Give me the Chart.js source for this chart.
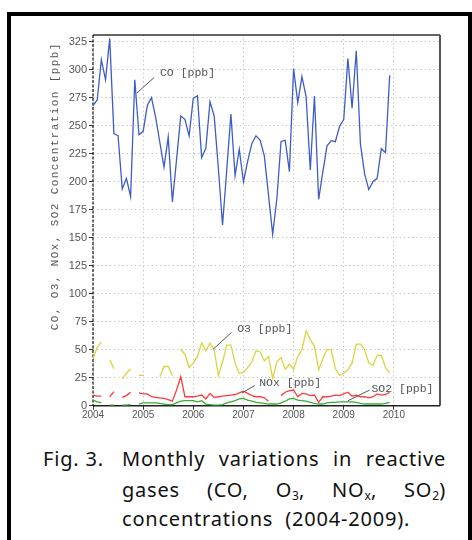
<!DOCTYPE html>
<html><head><meta charset="utf-8">
<script src="https://cdn.jsdelivr.net/npm/chart.js@4"></script>
<style>
html,body{margin:0;padding:0;background:#fff;}
body{width:472px;height:540px;position:relative;overflow:hidden;}
#frame{position:absolute;left:7px;top:12px;width:465px;height:560px;border:4px solid #000;box-sizing:border-box;}
#wrap{position:absolute;left:0;top:0;width:472px;height:440px;}
.cap{position:absolute;font-family:"Noto Sans";font-size:20px;letter-spacing:0.8px;line-height:30px;color:#111;white-space:nowrap;}
.j{text-align:justify;text-align-last:justify;white-space:normal;}
.lab{display:inline-block;width:79px;text-align:left;text-align-last:left;white-space:nowrap;}
sub{font-size:12px;vertical-align:-3px;line-height:0;letter-spacing:0;}
</style></head>
<body>
<div id="frame"></div>
<div id="wrap"><canvas id="c" width="472" height="440"></canvas></div>
<div class="cap j" style="left:43px;top:444px;width:403px;"><span class="lab">Fig. 3.</span>Monthly variations in reactive</div>
<div class="cap j" style="left:122px;top:475px;width:324px;">gases (CO, O<sub>3</sub>, NO<sub>x</sub>, SO<sub>2</sub>)</div>
<div class="cap" style="left:122px;top:504px;">concentrations &nbsp;(2004-2009).</div>
<script>
const startYear = 2004;
const yearTicks = [2004, 2005, 2006, 2007, 2008, 2009, 2010];
const yTicks = [0, 25, 50, 75, 100, 125, 150, 175, 200, 225, 250, 275, 300, 325];
const seriesNames = ['CO [ppb]', 'O3 [ppb]', 'NOx [ppb]', 'SO2 [ppb]'];

const co = [268, 273, 309, 291, 328, 243, 241, 193.5, 203, 186.6, 291, 242,
  245, 268, 275, 257.5, 235, 213, 240, 182, 220, 258.7, 255.7, 241,
  274.5, 276.6, 221.5, 229.8, 271.5, 258.7, 212, 161.4, 210, 260.5, 205.4, 229,
  200, 218, 234, 241, 237, 223, 188, 153, 185, 236, 237, 209,
  301, 270.6, 293.8, 276, 210.5, 276.6, 184.3, 208.5, 232, 236.7, 235.8, 249.5,
  255.5, 310, 265.6, 317, 233.5, 207, 193, 200, 203, 229.5, 226, 295];
const o3 = [42, 52, 57, null, 41, 33, null, 24, 29, 33, null, 27,
  27, null, null, null, 26, 35, 35, 27, null, 50, 46, 34,
  38, 44, 56, 49, 56, 50, 27, 39, 54, 54, 38, 29,
  30, 34, 39, 49, 48, 40, 44, 24.5, 39, 43, 32.5, 37,
  32.5, 44, 50, 67, 59, 53, 32, 42, 50, 50, 33, 27,
  29, 32, 38, 55, 55, 50, 38, 36, 45, 45, 34, 29.5];
const nox = [9.5, 8.5, 8.5, null, 8, 12.5, null, 7.5, 9, 12, null, 11.5,
  10.5, 10.5, 8, 7.5, 7, 6.5, 5.5, 4, 14, 26, 8, 8,
  8, 8.5, 9.5, 6, 11, 7.5, 8, 8.5, 9, 9.5, 10, 11.5,
  13, 11, 9, 8, 8, 7, 4, null, null, 9, 12, 13.5,
  14, 8, 11, 10.5, 9, 9.5, 3, 8, 8, 8.5, 9.5, 9,
  10.5, 12, 8.5, 9.5, 8, 8, 7, 8, 10.5, 9.5, 10, 12];
const so2 = [5, 3.5, 2.5, null, 0.5, 0.5, null, 0.5, 0.5, 1, null, 1.5,
  2.5, 2.5, 2.5, 2.5, 2, 1.5, 1, 1, 2.5, 4, 4.5, 4.5,
  4.5, 3.5, 4.5, 1.5, 1, 0.5, 0.5, 1, 2.5, 3.5, 4.5, 6,
  6.5, 5, 4, 3, 2.5, 2, 1.5, 1.5, 1.5, 2.5, 4, 6,
  6.5, 5, 4.5, 4, 3, 2, 1.5, 1.5, 2.5, 3, 3, 3.5,
  3.5, 3.5, 3.5, 3, 2, 1.5, 1.5, 1.5, 1.5, 1.5, 2, 3];

const toPoints = arr => arr.map((v, i) => ({x: startYear + i / 12, y: v}));

// label callouts in data units: leader from -> to, text anchored at "at"
const callouts = [
  {text: seriesNames[0], from: [2004.87, 279], to: [2005.215, 292.9], at: [2005.335, 297.4]},
  {text: seriesNames[1], from: [2006.396, 50.4], to: [2006.763, 65.5], at: [2006.875, 68.5]},
  {text: seriesNames[2], from: [2006.968, 11.3], to: [2007.227, 18.0], at: [2007.313, 20.0]},
  {text: seriesNames[3], from: [2009.086, 4.5], to: [2009.518, 14.0], at: [2009.552, 14.6]}
];
const yTitle = 'CO, O3, NOx, SO2 Concentration [ppb]';

const framePlugin = {
  id: 'frame',
  beforeDatasetsDraw(chart) {
    const {ctx, chartArea: a} = chart;
    ctx.save();
    ctx.strokeStyle = '#333'; ctx.lineWidth = 1.5;
    ctx.beginPath(); ctx.moveTo(a.left, a.top); ctx.lineTo(a.right, a.top); ctx.stroke();
    ctx.strokeStyle = '#555'; ctx.lineWidth = 2;
    ctx.beginPath(); ctx.moveTo(a.right, a.top); ctx.lineTo(a.right, a.bottom); ctx.stroke();
    ctx.strokeStyle = '#222'; ctx.lineWidth = 1.5;
    ctx.beginPath(); ctx.moveTo(a.left, a.bottom); ctx.lineTo(a.right, a.bottom); ctx.stroke();
    ctx.strokeStyle = '#111'; ctx.lineWidth = 1.2; ctx.setLineDash([3, 1.5]);
    ctx.beginPath(); ctx.moveTo(a.left, a.top); ctx.lineTo(a.left, a.bottom); ctx.stroke();
    ctx.restore();
  },
  afterDatasetsDraw(chart) {
    const {ctx, scales: {x, y}, chartArea: a} = chart;
    ctx.save();
    ctx.strokeStyle = '#555'; ctx.lineWidth = 1;
    ctx.fillStyle = '#555';
    ctx.font = '11.5px "Liberation Mono"';
    ctx.textBaseline = 'middle'; ctx.textAlign = 'left';
    callouts.forEach(c => {
      ctx.beginPath();
      ctx.moveTo(x.getPixelForValue(c.from[0]), y.getPixelForValue(c.from[1]));
      ctx.lineTo(x.getPixelForValue(c.to[0]), y.getPixelForValue(c.to[1]));
      ctx.stroke();
      ctx.fillText(c.text, x.getPixelForValue(c.at[0]), y.getPixelForValue(c.at[1]));
    });
    // y axis title
    ctx.font = '11px "Liberation Mono"';
    try { ctx.letterSpacing = '1.4px'; } catch (e) {}
    ctx.textAlign = 'center';
    ctx.translate(a.left - 37.5, y.getPixelForValue(196));
    ctx.rotate(-Math.PI / 2);
    ctx.fillText(yTitle, 0, 0);
    ctx.restore();
  }
};

const lineDs = (label, data, color) => ({
  label, data: toPoints(data), borderColor: color, backgroundColor: color,
  borderWidth: 1.3, pointRadius: 0, tension: 0, spanGaps: false, fill: false
});

new Chart(document.getElementById('c'), {
  type: 'line',
  data: {
    datasets: [
      lineDs(seriesNames[0], co, '#3d5cc6'),
      lineDs(seriesNames[1], o3, '#dcd43c'),
      lineDs(seriesNames[2], nox, '#ff3c3c'),
      lineDs(seriesNames[3], so2, '#33b033')
    ]
  },
  options: {
    responsive: false, animation: false, devicePixelRatio: 1,
    layout: {padding: {top: 35, right: 32, left: 0, bottom: 0}},
    plugins: {legend: {display: false}, tooltip: {enabled: false}},
    scales: {
      x: {
        type: 'linear', min: 2004, max: 2010.92,
        afterBuildTicks: s => { s.ticks = yearTicks.map(v => ({value: v})); },
        afterFit: s => { s.height = 34.3; },
        grid: {color: '#bdbdbd', lineWidth: 1, tickLength: 4, tickColor: '#333', tickWidth: 1, tickBorderDash: []},
        border: {display: false, dash: [1.2, 3]},
        ticks: {color: '#555', font: {family: 'Liberation Sans', size: 10}, padding: 0, maxRotation: 0, autoSkip: false,
          callback: v => String(v)}
      },
      y: {
        type: 'linear', min: 0, max: 331,
        afterBuildTicks: s => { s.ticks = yTicks.map(v => ({value: v})); },
        afterFit: s => { s.width = 93; },
        grid: {color: '#bdbdbd', lineWidth: 1, tickLength: 4, tickColor: '#333', tickWidth: 1, tickBorderDash: []},
        border: {display: false, dash: [1.2, 3]},
        ticks: {color: '#555', font: {family: 'Liberation Sans', size: 11}, padding: 2, autoSkip: false}
      }
    }
  },
  plugins: [framePlugin]
});
</script>
</body></html>
